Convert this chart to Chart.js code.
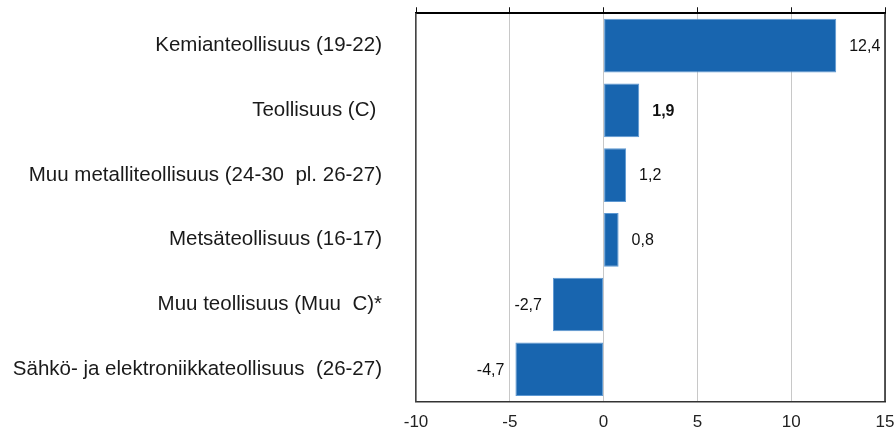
<!DOCTYPE html>
<html>
<head>
<meta charset="utf-8">
<script src="https://cdn.jsdelivr.net/npm/chart.js@4"></script>
<style>
  html,body{margin:0;padding:0;background:#fff;}
  #wrap{width:896px;height:436px;position:relative;}
</style>
</head>
<body>
<div id="wrap"><canvas id="c"></canvas></div>
<script>
/* toimialat ja muutos-% */
const categories = [
  'Kemianteollisuus (19-22)',
  'Teollisuus (C) ',
  'Muu metalliteollisuus (24-30  pl. 26-27)',
  'Metsäteollisuus (16-17)',
  'Muu teollisuus (Muu  C)*',
  'Sähkö- ja elektroniikkateollisuus  (26-27)'
];
const values = [12.4, 1.9, 1.2, 0.8, -2.7, -4.7];
const boldRows = [false, true, false, false, false, false];
const xTicks = [-10, -5, 0, 5, 10, 15];

const FONT = '"Liberation Sans", Arial, sans-serif';
const fmt = v => v.toFixed(1).replace('.', ',');

// kehys oikealle + arvot palkkien päähän
const framePlugin = {
  id:'frame',
  afterDraw(chart){
    const {ctx, chartArea:a} = chart;
    ctx.save();
    ctx.strokeStyle = '#222';
    ctx.lineWidth = 1.5;
    ctx.beginPath();
    ctx.moveTo(a.right, a.top);
    ctx.lineTo(a.right, a.bottom);
    ctx.stroke();
    ctx.restore();
  }
};
const valuePlugin = {
  id:'values',
  afterDatasetsDraw(chart){
    const ctx = chart.ctx;
    const meta = chart.getDatasetMeta(0);
    ctx.save();
    ctx.fillStyle = '#111';
    ctx.textBaseline = 'middle';
    meta.data.forEach((bar, i) => {
      const v = values[i];
      ctx.font = (boldRows[i] ? 'bold ' : '') + '16px ' + FONT;
      if (v >= 0) { ctx.textAlign = 'left'; ctx.fillText(fmt(v), bar.x + 13, bar.y + 1); }
      else { ctx.textAlign = 'right'; ctx.fillText(fmt(v), bar.x - 11, bar.y + 1); }
    });
    ctx.restore();
  }
};

new Chart(document.getElementById('c'), {
  type:'bar',
  data:{ labels:categories, datasets:[{
    data:values, backgroundColor:'#1865af', borderColor:'#5d98d2', borderWidth:1,
    borderSkipped:false, barPercentage:0.83, categoryPercentage:1
  }]},
  options:{
    indexAxis:'y', responsive:true, maintainAspectRatio:false, animation:false,
    layout:{ padding:{ top:1, right:0, bottom:0, left:0 } },
    plugins:{ legend:{display:false}, tooltip:{enabled:false} },
    scales:{
      x:{
        min:-10, max:15,
        afterBuildTicks: s => { s.ticks = xTicks.map(v=>({value:v})); },
        grid:{ color:'#c8c8c8', lineWidth:1, drawTicks:true, tickLength:8, tickColor:'rgba(0,0,0,0)' },
        border:{ display:true, color:'#333', width:1.5 },
        ticks:{ padding:3, color:'#222', font:{ family:FONT, size:17 }, callback: v => String(v) },
        afterFit: s => { s.paddingRight = 11; s.paddingLeft = 0; }
      },
      x2:{
        position:'top', min:-10, max:15,
        afterBuildTicks: s => { s.ticks = xTicks.map(v=>({value:v})); },
        grid:{ drawOnChartArea:false, drawTicks:true, tickLength:6, color:'#111' },
        border:{ display:true, color:'#000', width:2 },
        ticks:{ display:false }
      },
      y:{
        grid:{ drawOnChartArea:false, drawTicks:true, tickLength:31, tickColor:'rgba(0,0,0,0)' },
        border:{ display:true, color:'#444', width:1.5 },
        ticks:{ padding:3, color:'#1a1a1a', font:{ family:FONT, size:20.5, lineHeight:1 } },
        afterFit: s => { s.width = 416; }
      }
    }
  },
  plugins:[framePlugin, valuePlugin]
});
</script>
</body>
</html>
